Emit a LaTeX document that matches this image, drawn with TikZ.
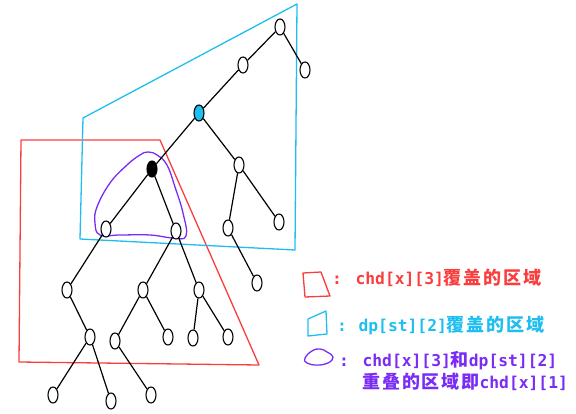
\documentclass[tikz,border=0pt]{standalone}
\usepackage{fontspec}
\setmonofont{DejaVu Sans Mono}
\newfontfamily\cjkfont{Noto Sans CJK SC}[LetterSpace=10]
\usetikzlibrary{shapes.geometric}

\definecolor{regred}{RGB}{250,62,62}
\definecolor{regblue}{RGB}{30,190,240}
\definecolor{regpurple}{RGB}{122,44,245}

\newcommand{\zh}[1]{{\fontsize{18}{20}\selectfont\cjkfont #1}}

\begin{document}
\begin{tikzpicture}[
  x=1pt, y=-1pt,
  line width=1.2pt,
  sibling distance=0pt,
  tree node/.style={
    draw, ellipse, fill=white, inner sep=0pt, line width=1.1pt,
    minimum width=10pt, minimum height=16pt,
  },
  final/.style={
    fill=black,
  },
  marked/.style={
    fill=regblue,
  },
  dxy/.style 2 args={
    xshift=#1pt, level distance=#2pt
  },
  region/.style={
    line width=1.3pt, line join=round,
  },
  key text/.style={
    anchor=base west, inner sep=0pt,
    font=\fontsize{16.3}{20}\selectfont\ttfamily\bfseries,
  }
  ]
  \useasboundingbox (0,0) rectangle (576,414);

  % covered areas
  \draw[region, regred] (21,140) -- (160,140) -- (259,365) -- (19,362) -- cycle;
  \draw[region, regblue] (297,4) -- (83,118) -- (80,239) -- (295,250) -- cycle;
  \draw[region, regpurple] plot[smooth cycle, tension=0.7] coordinates {
    (148,152) (157,155) (167,165) (175,187) (183,213) (186,236)
    (173,238) (150,235) (120,235) (100,235) (95,223) (97,207)
    (110,183) (127,165) (140,155)};

  % the tree
  \draw (280,27) node[tree node] (root) {}
    child[dxy={-37}{38}] {
      node[tree node] (up) {}
      child[dxy={-44}{48}] {
        node[tree node, marked] (st) {}
        child[dxy={-47}{56}] {
          node[tree node, final] (x) {}
          child[dxy={-46}{60}] {
            node[tree node] (xl) {}
            child[dxy={-39}{61}] {
              node[tree node] (xll) {}
              child[dxy={23}{47}] {
                node[tree node] (xllr) {}
                child[dxy={-37}{58}] {
                  node[tree node] (xllrl) {}
                }
                child[dxy={21}{64}] {
                  node[tree node] (xllrr) {}
                }
              }
            }
          }
          child[dxy={24}{62}] {
            node[tree node] (xr) {}
            child[dxy={-33}{59}] {
              node[tree node] (xrl) {}
              child[dxy={-28}{51}] {
                node[tree node] (xrll) {}
                child[dxy={36}{54}] {
                  node[tree node] (xrllr) {}
                }
              }
              child[dxy={25}{47}] {
                node[tree node] (xrlr) {}
              }
            }
            child[dxy={23}{59}] {
              node[tree node] (xrr) {}
              child[dxy={-6}{48}] {
                node[tree node] (xrrl) {}
              }
              child[dxy={29}{47}] {
                node[tree node] (xrrr) {}
              }
            }
          }
        }
        child[dxy={40}{52}] {
          node[tree node] (sr) {}
          child[dxy={-11}{63}] {
            node[tree node] (srl) {}
            child[dxy={29}{55}] {
              node[tree node] (srlr) {}
            }
          }
          child[dxy={40}{57}] {
            node[tree node] (srr) {}
          }
        }
      }
    }
    child[dxy={25}{43}] {
      node[tree node] (rootr) {}
    }
  ;

  % legend
  \draw[region, regred] (303,273) -- (321,272) -- (330,296) -- (305,297) -- cycle;
  \draw[region, regblue] (308,336) -- (308,319) -- (326,311) -- (327,334) -- cycle;
  \draw[region, regpurple] plot[smooth cycle, tension=0.8] coordinates {
    (305,358) (312,351) (320,349) (327,352) (333,357) (328,363) (317,365) (307,363)};

  \node[key text, regred, anchor=base] (c1) at (337,285) {:};
  \node[key text, regred] (k1) at (355,285) {chd[x][3]\zh{覆盖的区域}};
  \node[key text, regblue, anchor=base] (c2) at (342,331) {:};
  \node[key text, regblue] (k2) at (358,331) {dp[st][2]\zh{覆盖的区域}};
  \node[key text, regpurple, anchor=base] (c3) at (344,366) {:};
  \node[key text, regpurple] (k3) at (362,366) {chd[x][3]\zh{和}dp[st][2]};
  \node[key text, regpurple] (k4) at (362,388) {\zh{重叠的区域即}chd[x][1]};
\end{tikzpicture}
\end{document}
